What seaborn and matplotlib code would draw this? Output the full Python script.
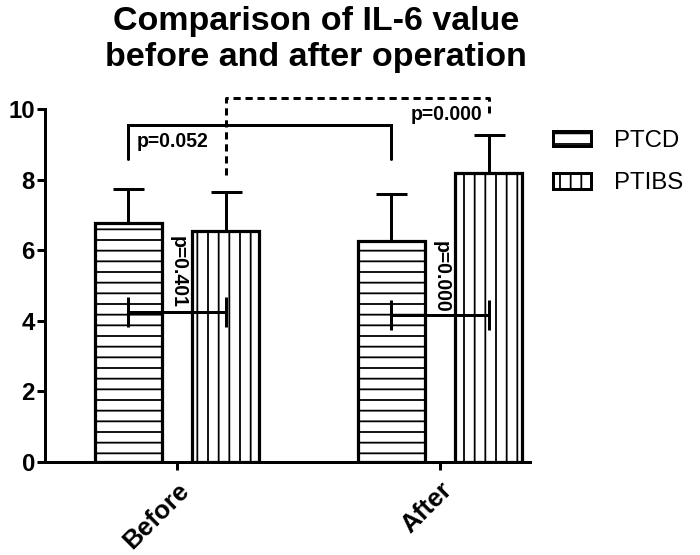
import numpy as np
import pandas as pd
import matplotlib
matplotlib.use("Agg")
import matplotlib.pyplot as plt
import seaborn as sns
from matplotlib.patches import Patch

# ---------------- data ----------------
times = ["Before", "After"]
groups = ["PTCD", "PTIBS"]
ptcd_mean = [6.77, 6.26]
ptibs_mean = [6.54, 8.19]
ptcd_sd = [0.96, 1.33]
ptibs_sd = [1.11, 1.07]
hatches = {"PTCD": "-", "PTIBS": "|"}

title = "Comparison of IL-6 value\nbefore and after operation"
yticks = [0, 2, 4, 6, 8, 10]

# comparison annotations
p_between = ["p=0.401", "p=0.000"]     # PTCD vs PTIBS within time
p_between_y = [4.25, 4.16]
p_between_text_y = [5.38, 5.24]
p_ptcd = "p=0.052"                      # PTCD before vs after
p_ptcd_y = [9.55, 8.58]
p_ptibs = "p=0.000"                     # PTIBS before vs after
p_ptibs_y = [10.3, 8.13, 9.9]

# ---------------- style ----------------
DPI = 64
W, H = 700, 555
def pt(px):
    return px * 72.0 / DPI

sns.set_theme(style="ticks")
plt.rcParams["font.family"] = ["Liberation Sans", "DejaVu Sans"]
plt.rcParams["hatch.linewidth"] = pt(1.8)
plt.rcParams["hatch.color"] = "black"
for k in ["text.color", "axes.labelcolor", "xtick.color", "ytick.color",
          "axes.edgecolor"]:
    plt.rcParams[k] = "black"

df = pd.DataFrame({
    "time": times * 2,
    "group": [groups[0]] * 2 + [groups[1]] * 2,
    "value": ptcd_mean + ptibs_mean,
})

fig = plt.figure(figsize=(W / DPI, H / DPI), dpi=DPI)
ax = fig.add_axes([45 / W, 1 - 462 / H, (530 - 45) / W, (462 - 109) / H])

sns.barplot(data=df, x="time", y="value", hue="group", order=times,
            hue_order=groups, palette=["white", "white"], width=0.74,
            gap=0.31, errorbar=None, edgecolor="black",
            linewidth=pt(3.2), ax=ax, legend=False, saturation=1)

centers = {}
for cont, g in zip(ax.containers, groups):
    xs = []
    for patch in cont:
        patch.set_hatch(hatches[g])
        patch.set_facecolor("white")
        patch.set_edgecolor("black")
        xs.append(patch.get_x() + patch.get_width() / 2)
    centers[g] = xs

# upward error bars
for g, means, sds in [("PTCD", ptcd_mean, ptcd_sd), ("PTIBS", ptibs_mean, ptibs_sd)]:
    ax.errorbar(centers[g], means, yerr=[np.zeros(len(sds)), sds], fmt="none",
                ecolor="black", elinewidth=pt(3), capsize=pt(15.5),
                capthick=pt(3), zorder=5)

lw = pt(3)
# within-time comparison (horizontal error-like bars) + rotated p-text
for i in range(2):
    x0, x1 = centers["PTCD"][i], centers["PTIBS"][i]
    y = p_between_y[i]
    ax.errorbar([(x0 + x1) / 2], [y], xerr=[[(x1 - x0) / 2]], fmt="none",
                ecolor="black", elinewidth=lw, capsize=pt(15), capthick=lw,
                zorder=6)
    ax.text(i + 0.005, p_between_text_y[i], p_between[i], rotation=270,
            ha="center", va="center", fontsize=pt(19.5), fontweight="bold",
            zorder=7, color="black")

# PTCD before vs after (solid bracket)
xa, xb = centers["PTCD"]
ax.plot([xa, xa, xb, xb], [p_ptcd_y[1], p_ptcd_y[0], p_ptcd_y[0], p_ptcd_y[1]],
        color="black", lw=lw, clip_on=False, solid_joinstyle="miter", zorder=6)
ax.text(xa + 0.03, 9.08, p_ptcd, ha="left", va="center",
        fontsize=pt(19.5), fontweight="bold", color="black")

# PTIBS before vs after (dashed bracket)
xc, xd = centers["PTIBS"]
ax.plot([xc, xc, xd, xd], [p_ptibs_y[1], p_ptibs_y[0], p_ptibs_y[0], p_ptibs_y[2]],
        color="black", lw=lw, ls=(0, (2.4, 1.6)), clip_on=False, zorder=6)
ax.text(0.89, 9.84, p_ptibs, ha="left", va="center",
        fontsize=pt(19.5), fontweight="bold", color="black")

# axes
ax.set_xlim(-0.502, 1.342)
ax.set_ylim(0, 10)
ax.set_yticks(yticks)
ax.set_yticklabels([str(t) for t in yticks], fontsize=pt(24), fontweight="bold")
ax.set_xticks([0, 1])
ax.set_xticklabels(times, fontsize=pt(26), fontweight="bold", rotation=45,
                   ha="right", va="top", rotation_mode="anchor")
ax.set_xlabel("")
ax.set_ylabel("")
sns.despine(ax=ax)
for s in ["left", "bottom"]:
    ax.spines[s].set_linewidth(pt(3))
    ax.spines[s].set_color("black")
ax.tick_params(axis="both", width=pt(3), length=pt(8), color="black",
               labelcolor="black", direction="out")
ax.tick_params(axis="y", pad=pt(2))
ax.tick_params(axis="x", pad=pt(8))
ax.set_facecolor("white")

# title
fig.text(316 / W, 1 - 6 / H, title, ha="center", va="top", fontsize=pt(34),
         fontweight="bold", linespacing=1.2, color="black")

# legend
handles = [Patch(facecolor="white", edgecolor="black", hatch=hatches[g],
                 linewidth=pt(3)) for g in groups]
fig.legend(handles, groups, loc="upper left",
           bbox_to_anchor=(553 / W, 1 - 130 / H), frameon=False,
           fontsize=pt(24), handlelength=1.6, handleheight=0.6,
           handletextpad=0.95, labelspacing=0.85, borderpad=0, borderaxespad=0,
           labelcolor="black")

fig.savefig("out.png", dpi=DPI, facecolor="white")
